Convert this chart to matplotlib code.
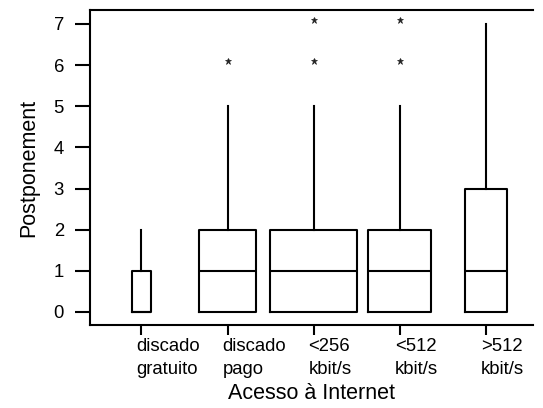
import matplotlib
matplotlib.use("Agg")
import matplotlib.pyplot as plt
from matplotlib.transforms import offset_copy

plt.rcParams['font.family'] = ['Liberation Sans', 'DejaVu Sans']

categories = ["discado\ngratuito", "discado\npago", "<256\nkbit/s", "<512\nkbit/s", ">512\nkbit/s"]
q1 = [0, 0, 0, 0, 0]
medians = [0, 1, 1, 1, 1]
q3 = [1, 2, 2, 2, 3]
whisker_low = [0, 0, 0, 0, 0]
whisker_high = [2, 5, 5, 5, 7]
outliers = [[], [6], [6, 7], [6, 7], []]
box_widths = [0.21, 0.67, 1.02, 0.74, 0.49]

fig = plt.figure(figsize=(5.43, 4.08), dpi=100)
ax = fig.add_axes([90/543, (408-325)/408, (533-90)/543, (325-10)/408])

positions = list(range(1, len(categories) + 1))
stats = []
for i in range(len(categories)):
    stats.append(dict(med=medians[i], q1=q1[i], q3=q3[i],
                      whislo=whisker_low[i], whishi=whisker_high[i],
                      fliers=outliers[i]))

lw = 1.5
res = ax.bxp(stats, positions=positions, widths=box_widths, showcaps=False,
             boxprops=dict(color='black', linewidth=lw),
             whiskerprops=dict(color='black', linewidth=lw),
             medianprops=dict(color='black', linewidth=lw),
             flierprops=dict(marker='*', markersize=4.5, markerfacecolor='#222222',
                             markeredgecolor='#222222', markeredgewidth=0.5,
                             linestyle='none'))
for fl in res['fliers']:
    fl.set_transform(offset_copy(ax.transData, fig=fig, x=0, y=4, units='dots'))

ax.set_xlim(0.4015, 5.55)
ax.set_ylim(-0.316, 7.34)

ax.set_yticks(range(0, 8))
ax.set_xticks(positions)
ax.set_xticklabels([])
lab_tr = offset_copy(ax.get_xaxis_transform(), fig=fig, x=-5, y=-13, units='dots')
for pos, lab in zip(positions, categories):
    ax.text(pos, 0, lab, transform=lab_tr, ha='left', va='top',
            fontsize=13.3, linespacing=1.45)

ax.tick_params(axis='y', length=10.8, width=1.5, pad=8, labelsize=13.3, direction='out')
ax.tick_params(axis='x', length=7.2, width=1.5, direction='out')

for s in ['left', 'top', 'bottom']:
    ax.spines[s].set_linewidth(1.5)
ax.spines['right'].set_visible(False)

ax.set_xlabel("Acesso à Internet", fontsize=15.5, va='top')
ax.xaxis.set_label_coords(0.5, -0.184)
ax.set_ylabel("Postponement", fontsize=15.5, labelpad=10)

fig.savefig("out.png", dpi=100)
